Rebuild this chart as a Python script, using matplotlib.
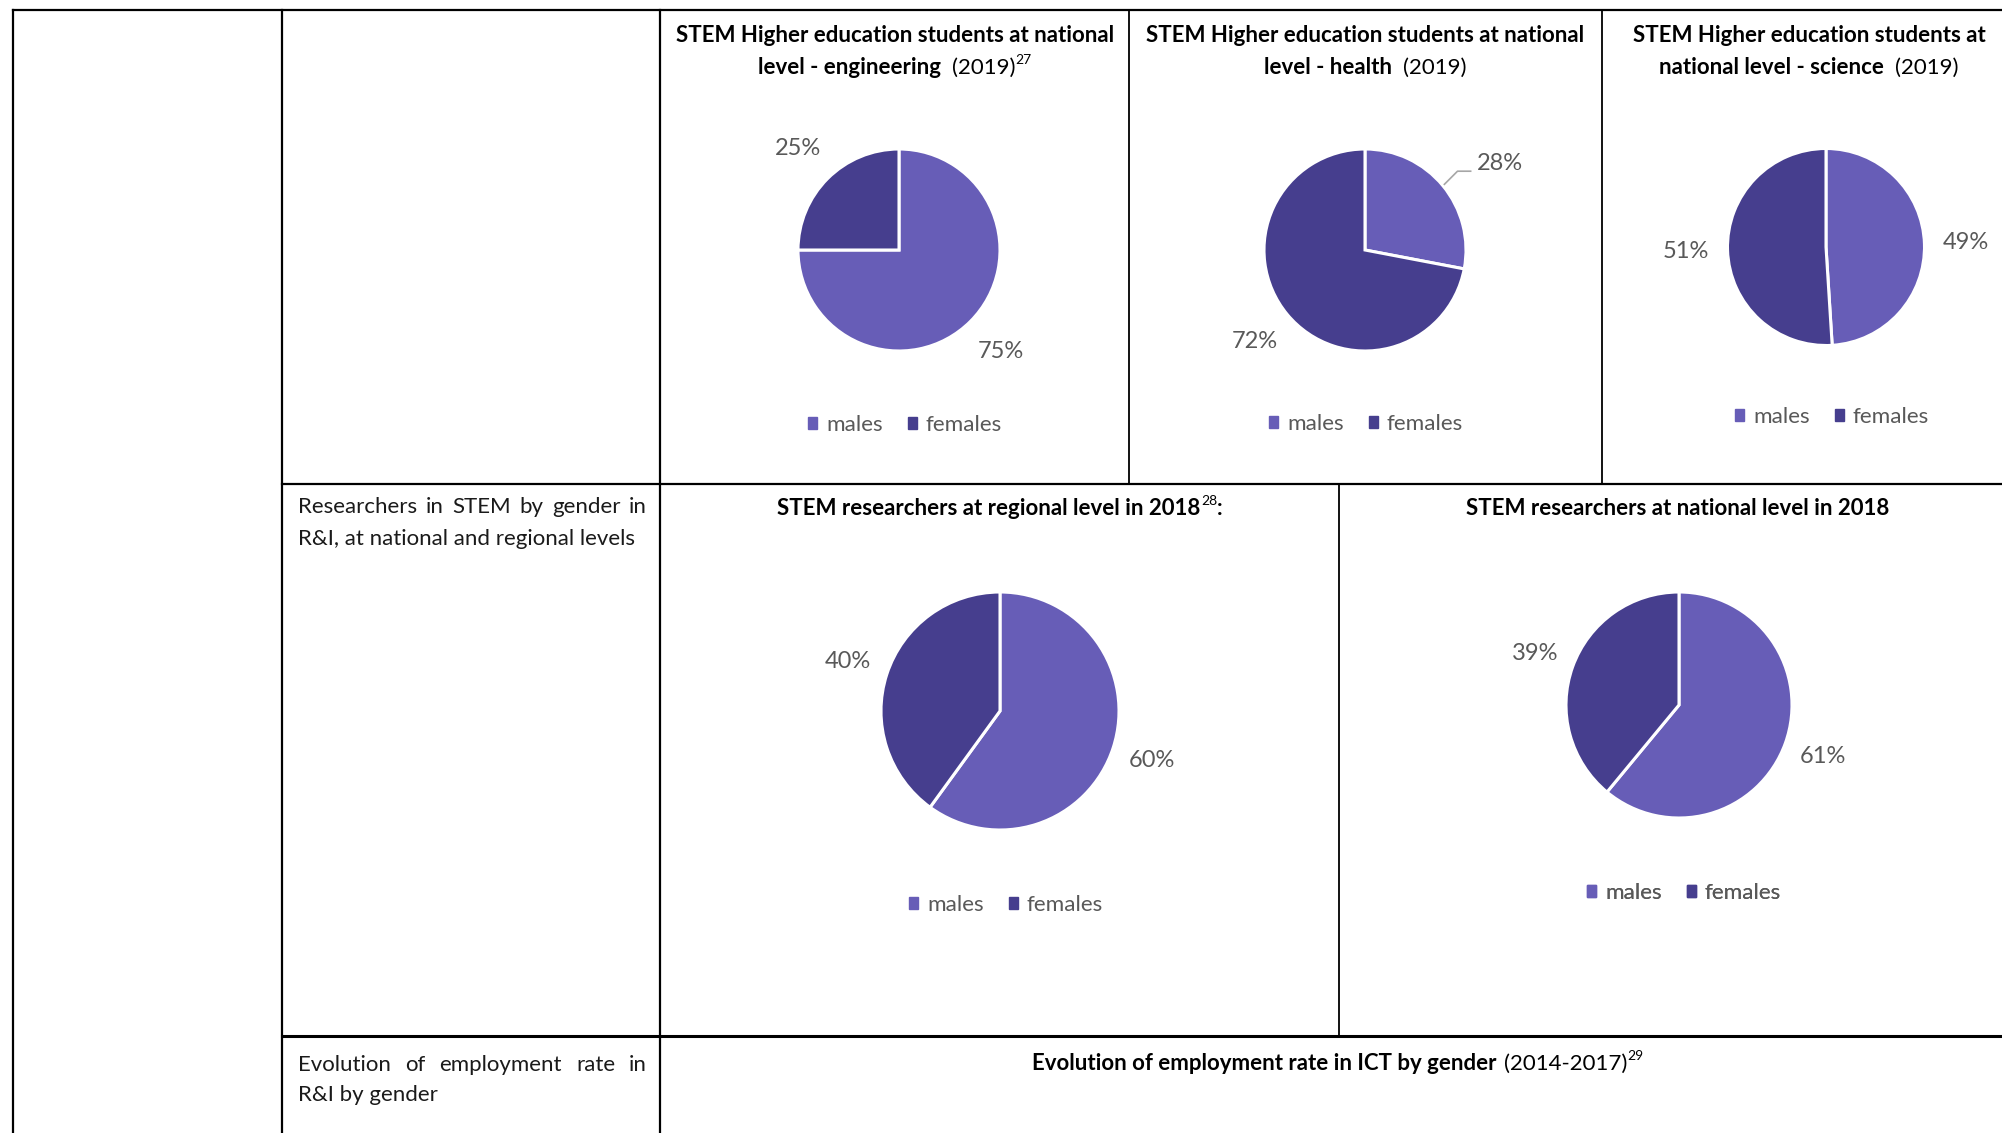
import matplotlib

matplotlib.use("Agg")
import matplotlib.pyplot as plt
import numpy as np
from matplotlib.patches import Patch

# ---- data -------------------------------------------------------------
labels = ["males", "females"]

eng_values = [75, 25]
health_values = [28, 72]
science_values = [49, 51]
regional_values = [60, 40]
national_values = [61, 39]

eng_title = ["STEM Higher education students at national", "level - engineering"]
health_title = ["STEM Higher education students at national", "level - health"]
science_title = ["STEM Higher education students at", "national level - science"]
regional_title = "STEM researchers at regional level in 2018"
national_title = "STEM researchers at national level in 2018"
ict_title = "Evolution of employment rate in ICT by gender"

row2_text = ["Researchers in STEM by gender in", "R&I, at national and regional levels"]
row3_text = ["Evolution of employment rate in", "R&I by gender"]

# ---- style ------------------------------------------------------------
W, H = 2002, 1133
C_MALE = "#675DB7"
C_FEMALE = "#463E8E"
GREY = "#595959"
FONT = "Lato"

plt.rcParams["font.family"] = [FONT, "DejaVu Sans"]

fig = plt.figure(figsize=(W / 100, H / 100), dpi=100)
base = fig.add_axes([0, 0, 1, 1])
base.set_xlim(0, W)
base.set_ylim(H, 0)
base.axis("off")
renderer = fig.canvas.get_renderer()


def text_width(s, **kw):
    t = base.text(0, 0, s, **kw)
    w = t.get_window_extent(renderer).width
    t.remove()
    return w


def draw_runs(x, y, parts, ha="center"):
    """parts: list of (text, kwargs, gap_px, rise_px), drawn left to right on one baseline."""
    widths = [text_width(s, **kw) for s, kw, _, _ in parts]
    total = sum(widths) + sum(p[2] for p in parts)
    cur = x - total / 2 if ha == "center" else x
    for (s, kw, gap, rise), w in zip(parts, widths):
        cur += gap
        base.text(cur, y - rise, s, ha="left", va="baseline", **kw)
        cur += w


def draw_justified(x0, x1, y, line, **kw):
    words = line.split()
    widths = [text_width(w, **kw) for w in words]
    gap = (x1 - x0 - sum(widths)) / (len(words) - 1)
    cur = x0
    for w, wd in zip(words, widths):
        base.text(cur, y, w, ha="left", va="baseline", **kw)
        cur += wd + gap


# ---- table grid -------------------------------------------------------
grid = [
    ((13, W), (10, 10), 1.6),
    ((13, 13), (10, H), 1.6),
    ((282, 282), (10, H), 1.6),
    ((660, 660), (10, H), 1.6),
    ((1129, 1129), (10, 484), 1.3),
    ((1602, 1602), (10, 484), 1.3),
    ((282, W), (484, 484), 1.6),
    ((1339, 1339), (484, 1036), 1.3),
    ((282, W), (1036, 1036), 2.2),
]
for xs, ys, lw in grid:
    base.plot(xs, ys, color="black", lw=lw, solid_capstyle="projecting")

# ---- left column text ---------------------------------------------------
body = dict(fontsize=16, color="#1a1a1a")
draw_justified(298, 647, 513, row2_text[0], **body)
base.text(298, 545, row2_text[1], ha="left", va="baseline", **body)
draw_justified(298, 647, 1071, row3_text[0], **body)
base.text(298, 1101, row3_text[1], ha="left", va="baseline", **body)

# ---- titles -----------------------------------------------------------
TB = dict(fontsize=16, fontweight="bold", color="black")
TN = dict(fontsize=16, color="black")
SUP = dict(fontsize=10, color="black")

draw_runs(895, 42, [(eng_title[0], TB, 0, 0)])
draw_runs(895, 74, [(eng_title[1], TB, 0, 0), ("(2019)", TN, 11, 0), ("27", SUP, 0, 10)])
draw_runs(1365, 42, [(health_title[0], TB, 0, 0)])
draw_runs(1365, 74, [(health_title[1], TB, 0, 0), ("(2019)", TN, 11, 0)])
draw_runs(1809, 42, [(science_title[0], TB, 0, 0)])
draw_runs(1809, 74, [(science_title[1], TB, 0, 0), ("(2019)", TN, 11, 0)])

draw_runs(1000, 515, [(regional_title, TB, 0, 0), ("28", SUP, 0, 10), (":", TB, 0, 0)])
draw_runs(1678, 515, [(national_title, TB, 0, 0)])
draw_runs(1338, 1070, [(ict_title, TB, 0, 0), ("(2014-2017)", TN, 7, 0), ("29", SUP, 0, 10)])


# ---- pies -------------------------------------------------------------
def draw_pie(cx, cy, r, values, legend_xy, label_dist=1.42, leader=None):
    ax = fig.add_axes([(cx - r) / W, 1 - (cy + r) / H, 2 * r / W, 2 * r / H])
    wedges, _ = ax.pie(
        values,
        colors=[C_MALE, C_FEMALE],
        startangle=90,
        counterclock=False,
        wedgeprops=dict(edgecolor="white", linewidth=2.2),
    )
    ax.set_xlim(-1, 1)
    ax.set_ylim(-1, 1)
    ax.set_aspect("equal")
    for i, (w, v) in enumerate(zip(wedges, values)):
        ang = np.deg2rad((w.theta1 + w.theta2) / 2)
        if leader is not None and i == leader:
            p0 = 1.02 * np.array([np.cos(ang), np.sin(ang)])
            p1 = p0 + np.array([0.13, 0.13])
            p2 = p1 + np.array([0.13, 0.0])
            ax.plot([p0[0], p1[0], p2[0]], [p0[1], p1[1], p2[1]], color="#A6A6A6", lw=1.2, clip_on=False)
            ax.text(p2[0] + 0.06, p2[1] + 0.08, f"{v}%", ha="left", va="center", fontsize=17, color=GREY,
                    clip_on=False)
        else:
            ax.text(label_dist * np.cos(ang), label_dist * np.sin(ang), f"{v}%", ha="center", va="center",
                    fontsize=17, color=GREY, clip_on=False)
    handles = [Patch(color=C_MALE), Patch(color=C_FEMALE)]
    leg = base.legend(
        handles, labels, loc="center", bbox_to_anchor=legend_xy, bbox_transform=base.transData,
        ncol=2, frameon=False, fontsize=16.2, labelcolor=GREY, handlelength=0.4, handleheight=0.4,
        handletextpad=0.4, columnspacing=1.1, borderpad=0,
    )
    base.add_artist(leg)
    return ax


draw_pie(899, 250, 101, eng_values, (905, 425))
draw_pie(1365, 250, 101, health_values, (1366, 424), leader=0)
draw_pie(1826, 247, 98.5, science_values, (1832, 417))
draw_pie(1000, 711, 119, regional_values, (1006, 905), label_dist=1.34)
draw_pie(1679, 705, 113, national_values, (1684, 893), label_dist=1.35)

fig.savefig("out.png", dpi=100)
